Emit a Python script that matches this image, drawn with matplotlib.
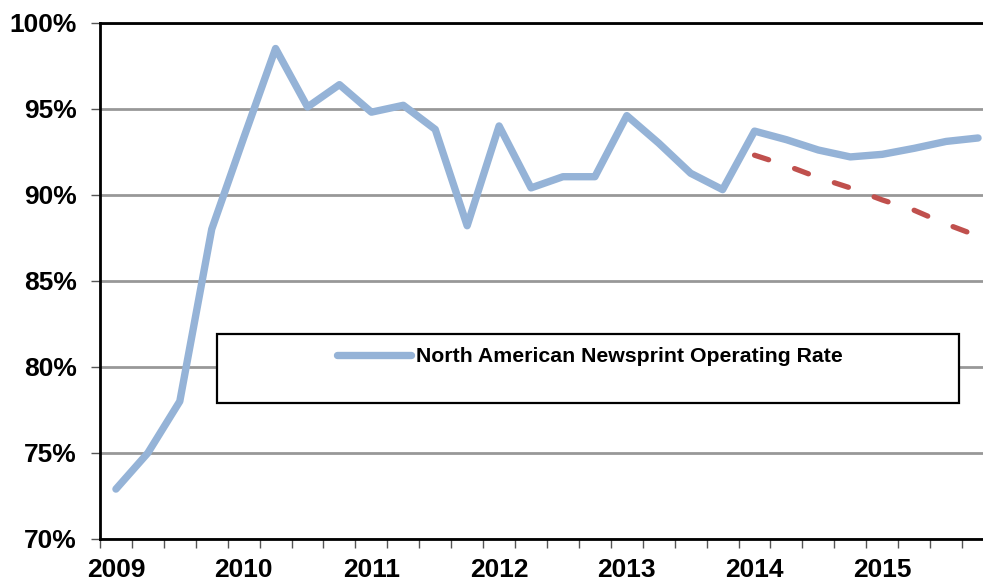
import numpy as np
import matplotlib.pyplot as plt
from matplotlib.patches import Rectangle
from matplotlib.ticker import MultipleLocator, FixedLocator

plt.rcParams['font.family'] = ['Liberation Sans', 'DejaVu Sans']
plt.rcParams['font.weight'] = 'bold'

# quarterly, 2009 Q1 .. 2015 Q4
operating_rate = [72.9, 75.0, 78.0, 88.0, 93.3, 98.5, 95.1, 96.4,
                  94.8, 95.2, 93.8, 88.2, 94.0, 90.4, 91.05, 91.05,
                  94.6, 93.0, 91.25, 90.3, 93.7, 93.2, 92.6, 92.2,
                  92.35, 92.7, 93.1, 93.3]
forecast = [92.3, 91.7, 91.0, 90.4, 89.7, 89.1, 88.3, 87.6]
forecast_start = 20
years = ['2009', '2010', '2011', '2012', '2013', '2014', '2015']
legend_label = 'North American Newsprint Operating Rate'

fig = plt.figure(figsize=(9.83, 5.83), dpi=100)
ax = fig.add_axes([0.1017, 0.0755, 0.9095, 0.8856])

q = np.arange(len(operating_rate))
ax.plot(q, operating_rate, color='#95B3D7', lw=5.3, solid_joinstyle='round',
        solid_capstyle='round', label=legend_label, zorder=3)
fq = np.arange(forecast_start, forecast_start + len(forecast))
ax.plot(fq, forecast, color='#C0504D', lw=3.8, dashes=(2.8, 5.2),
        dash_capstyle='round', label='_nolegend_', zorder=4)

ax.set_xlim(-0.5, len(operating_rate) - 0.5)
ax.set_ylim(70, 100)

ax.yaxis.set_major_locator(MultipleLocator(5))
ax.set_yticklabels([f'{v:.0f}%' for v in ax.get_yticks()])
ax.grid(axis='y', color='#989898', lw=2)
ax.set_axisbelow(True)

ax.xaxis.set_major_locator(FixedLocator(np.arange(0, len(operating_rate), 4)))
ax.set_xticklabels(years)
ax.xaxis.set_minor_locator(FixedLocator(np.arange(-0.5, len(operating_rate), 1)))
ax.tick_params(axis='x', which='major', length=0, pad=14, labelsize=19)
ax.tick_params(axis='x', which='minor', length=6.5, width=1, color='#555555')
ax.tick_params(axis='y', length=6.5, width=1, color='#555555', pad=10, labelsize=19)

for s in ['left', 'bottom', 'top']:
    ax.spines[s].set_linewidth(2)
    ax.spines[s].set_color('black')
ax.spines['right'].set_visible(False)

box = Rectangle((0.2208, 0.3087), 0.7548, 0.1184, transform=fig.transFigure,
                facecolor='white', edgecolor='black', lw=1.6, zorder=5, clip_on=False)
ax.add_patch(box)
leg = ax.legend(loc='center', bbox_to_anchor=(0.6002, 0.3877),
                bbox_transform=fig.transFigure, frameon=False,
                fontsize=15.3, handlelength=3.5, handletextpad=0.25)
leg.set_zorder(6)
for t in leg.get_texts():
    t.set_fontweight('bold')

fig.savefig('out.png', dpi=100)
